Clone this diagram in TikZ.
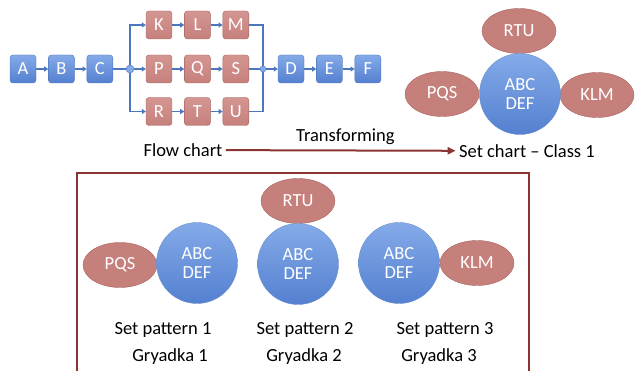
\documentclass[tikz,border=0pt]{standalone}
\usepackage{xcolor}
\usepackage{fontspec}
\setmainfont{Carlito}
\usepackage{tikz}
\usetikzlibrary{shapes, arrows.meta, positioning}

\definecolor{boxblue}{RGB}{84,128,208}
\definecolor{boxbluetop}{RGB}{132,170,232}
\definecolor{lineblue}{RGB}{76,118,190}
\definecolor{boxred}{RGB}{198,128,124}
\definecolor{boxredtop}{RGB}{212,150,146}
\definecolor{edgered}{RGB}{168,98,96}
\definecolor{arrowred}{RGB}{140,52,52}

\begin{document}
\begin{tikzpicture}[x=1pt, y=-1pt, node distance=12pt, font=\fontsize{18.5}{18.5}\selectfont]
        % Styles
        \tikzstyle{blk} = [draw=lineblue, rectangle, rounded corners=3pt, minimum width=26pt, minimum height=28pt, inner sep=0pt, top color=boxbluetop, bottom color=boxblue, text=white]
        \tikzstyle{rblk} = [blk, draw=edgered, top color=boxredtop, bottom color=boxred]
        \tikzstyle{joint} = [circle, draw=lineblue, fill=boxbluetop, inner sep=0pt, minimum size=8pt]
        \tikzstyle{flow} = [-{Triangle[length=4pt, width=5pt]}, draw=lineblue, line width=1.6pt]
        \tikzstyle{flowline} = [draw=lineblue, line width=1.6pt]
        \tikzstyle{setc} = [circle, draw=lineblue!80, top color=boxbluetop, bottom color=boxblue, minimum size=81pt, inner sep=0pt, align=center, text=white]
        \tikzstyle{sete} = [ellipse, draw=edgered, fill=boxred, minimum width=74pt, minimum height=45pt, inner sep=0pt, text=white]
        \tikzstyle{trans} = [-{Triangle[length=8pt, width=7pt]}, draw=arrowred, line width=2pt]

        \useasboundingbox (0,0) rectangle (635,371);

        % Flow chart
        \node [blk] (A) at (23,69) {A};
        \node [blk, right=of A] (B) {B};
        \node [blk, right=of B] (C) {C};
        \node [joint] (j1) at (130,69) {};
        \node [rblk] (K) at (159,25) {K};
        \node [rblk, right=of K] (L) {L};
        \node [rblk, right=of L] (M) {M};
        \node [rblk] (P) at (159,69) {P};
        \node [rblk, right=of P] (Q) {Q};
        \node [rblk, right=of Q] (S) {S};
        \node [rblk] (R) at (159,111.5) {R};
        \node [rblk, right=of R] (T) {T};
        \node [rblk, right=of T] (U) {U};
        \node [joint, minimum size=6pt] (j2) at (263,69) {};
        \node [blk] (D) at (291,69) {D};
        \node [blk, right=of D] (E) {E};
        \node [blk, right=of E] (F) {F};

        \draw [flow] (A) -- (B);
        \draw [flow] (B) -- (C);
        \draw [flowline] (C) -- (j1);
        \draw [flow] (j1) |- (K);
        \draw [flow] (j1) -- (P);
        \draw [flow] (j1) |- (R);
        \draw [flow] (K) -- (L);
        \draw [flow] (L) -- (M);
        \draw [flow] (P) -- (Q);
        \draw [flow] (Q) -- (S);
        \draw [flow] (R) -- (T);
        \draw [flow] (T) -- (U);
        \draw [flowline] (M) -| (j2);
        \draw [flowline] (S) -- (j2);
        \draw [flowline] (U) -| (j2);
        \draw [flow] (j2) -- (D);
        \draw [flow] (D) -- (E);
        \draw [flow] (E) -- (F);

        % Set chart
        \node [sete] (rtu) at (519,31) {RTU};
        \node [sete] (pqs) at (442,94) {PQS};
        \node [sete] (klm) at (597,95) {KLM};
        \node [setc] (abc) at (520,94) {ABC\\DEF};

        % Transforming arrow
        \node (flowchart) at (183,150) {Flow chart};
        \node (setchart) at (527,151) {Set chart -- Class 1};
        \draw [trans] (flowchart) -- (setchart) node [pos=0.52, above, yshift=1pt, text=black] {Transforming};

        % Set patterns
        \draw [arrowred, line width=2pt] (77,380) -- (77,173) -- (529,173) -- (529,380);
        \node [sete] (pqs1) at (120,265) {PQS};
        \node [setc] (c1) at (197,263) {ABC\\DEF};
        \node [sete] (rtu2) at (298,201) {RTU};
        \node [setc] (c2) at (298,264) {ABC\\DEF};
        \node [sete] (klm3) at (477,263) {KLM};
        \node [setc] (c3) at (399,263) {ABC\\DEF};

        \node (sp1) at (163,330) {Set pattern 1};
        \node (sp2) at (305,330) {Set pattern 2};
        \node (sp3) at (445,330) {Set pattern 3};
        \node (g1) at (170,357) {Gryadka 1};
        \node (g2) at (304,357) {Gryadka 2};
        \node (g3) at (439,357) {Gryadka 3};
    \end{tikzpicture}
\end{document}
